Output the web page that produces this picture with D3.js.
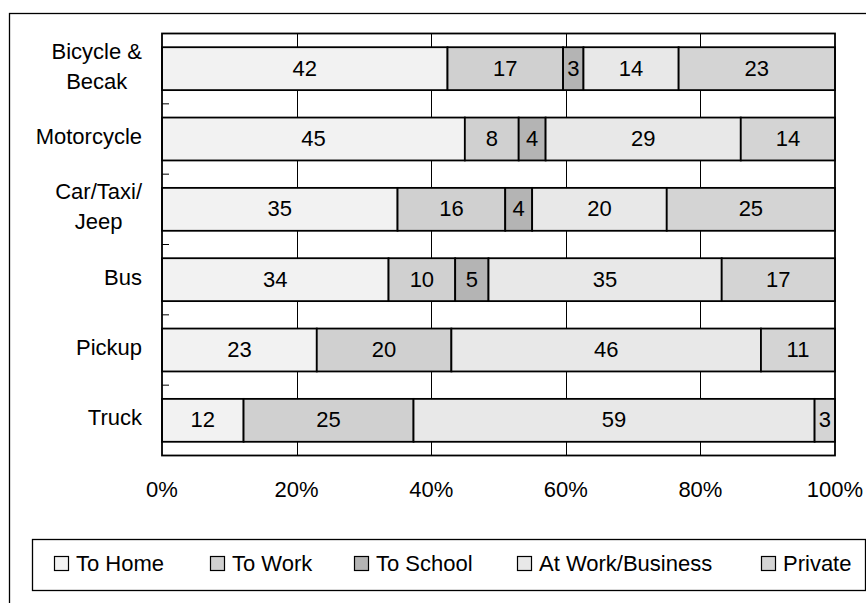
<!DOCTYPE html>
<html>
<head>
<meta charset="utf-8">
<script src="https://cdn.jsdelivr.net/npm/d3@7"></script>
<style>
  body { margin: 0; background: #fff; }
  svg { display: block; font-family: "Liberation Sans", Arial, sans-serif; }
</style>
</head>
<body>
<div id="chart"></div>
<script>
// vehicle types, top to bottom
const vehicles = ["Bicycle & Becak", "Motorcycle", "Car/Taxi/ Jeep", "Bus", "Pickup", "Truck"];
const vehicleLines = [["Bicycle &", "Becak"], ["Motorcycle"], ["Car/Taxi/", "Jeep"], ["Bus"], ["Pickup"], ["Truck"]];

// trip purposes (stack order)
const purposes = ["To Home", "To Work", "To School", "At Work/Business", "Private"];
const purposeColors = ["#f2f2f2", "#d0d0d0", "#b4b4b4", "#e8e8e8", "#d4d4d4"];

// shares per vehicle, same order as purposes
const toHome     = [42, 45, 35, 34, 23, 12];
const toWork     = [17, 8, 16, 10, 20, 25];
const toSchool   = [3, 4, 4, 5, 0, 0];
const atWork     = [14, 29, 20, 35, 46, 59];
const privateTrip = [23, 14, 25, 17, 11, 3];

const xTicks = [0, 0.2, 0.4, 0.6, 0.8, 1];

const W = 866, H = 603;
const plot = { left: 162, top: 33.5, right: 835, bottom: 455.5 };
const fontSize = 22;

const svg = d3.select("#chart").append("svg")
    .attr("width", W)
    .attr("height", H);

// outer frame (runs off the right and bottom)
svg.append("rect")
    .attr("x", 9.5).attr("y", 13.5)
    .attr("width", 1000).attr("height", 1000)
    .attr("fill", "none")
    .attr("stroke", "#000")
    .attr("stroke-width", 1.3);

// build rows for stacking
const series = [toHome, toWork, toSchool, atWork, privateTrip];
const rows = vehicles.map((v, i) => {
    const row = { vehicle: v };
    purposes.forEach((p, j) => row[p] = series[j][i]);
    return row;
});

const stacked = d3.stack()
    .keys(purposes)
    .offset(d3.stackOffsetExpand)(rows);

const x = d3.scaleLinear()
    .domain([0, 1])
    .range([plot.left, plot.right]);

const y = d3.scaleBand()
    .domain(vehicles)
    .range([plot.top, plot.bottom])
    .paddingInner(0.39)
    .paddingOuter(0.195);

// gridlines
svg.append("g")
    .selectAll("line")
    .data(xTicks.slice(1, -1))
    .join("line")
        .attr("x1", d => Math.round(x(d)) + 0.5)
        .attr("x2", d => Math.round(x(d)) + 0.5)
        .attr("y1", plot.top)
        .attr("y2", plot.bottom)
        .attr("stroke", "#000")
        .attr("stroke-width", 1);

// bars
const groups = svg.append("g")
    .selectAll("g")
    .data(stacked)
    .join("g")
        .attr("fill", (d, i) => purposeColors[i]);

groups.selectAll("rect")
    .data(d => d.filter(s => s[1] - s[0] > 0))
    .join("rect")
        .attr("x", d => x(d[0]))
        .attr("y", d => y(d.data.vehicle))
        .attr("width", d => x(d[1]) - x(d[0]))
        .attr("height", y.bandwidth())
        .attr("stroke", "#000")
        .attr("stroke-width", 1.8);

// bar value labels
stacked.forEach((s) => {
    svg.append("g")
        .selectAll("text")
        .data(s.filter(d => d.data[s.key] > 0))
        .join("text")
            .attr("x", d => (x(d[0]) + x(d[1])) / 2)
            .attr("y", d => y(d.data.vehicle) + y.bandwidth() / 2)
            .attr("dy", "0.32em")
            .attr("text-anchor", "middle")
            .attr("font-size", fontSize)
            .attr("fill", "#000")
            .text(d => d.data[s.key]);
});

// plot frame
svg.append("rect")
    .attr("x", plot.left).attr("y", plot.top)
    .attr("width", plot.right - plot.left)
    .attr("height", plot.bottom - plot.top)
    .attr("fill", "none")
    .attr("stroke", "#000")
    .attr("stroke-width", 1.8);

// category tick marks at band boundaries (pointing inward)
const step = y.step();
svg.append("g")
    .selectAll("line")
    .data(d3.range(1, vehicles.length))
    .join("line")
        .attr("x1", plot.left)
        .attr("x2", plot.left + 7)
        .attr("y1", d => plot.top + d * step)
        .attr("y2", d => plot.top + d * step)
        .attr("stroke", "#000")
        .attr("stroke-width", 1);

// category labels: lines centered within a block that is right-aligned
const labelRight = 142;
const lineH = 30;
vehicles.forEach((v, i) => {
    const lines = vehicleLines[i];
    const g = svg.append("g");
    const texts = g.selectAll("text")
        .data(lines)
        .join("text")
            .attr("font-size", fontSize)
            .attr("text-anchor", "middle")
            .text(d => d);
    const widest = d3.max(texts.nodes(), n => n.getComputedTextLength());
    const cx = labelRight - widest / 2;
    const cy = y(v) + y.bandwidth() / 2;
    const firstBase = cy + 5 - (lines.length - 1) * lineH / 2;
    texts.attr("x", cx)
        .attr("y", (d, k) => firstBase + k * lineH);
});

// x axis labels
svg.append("g")
    .selectAll("text")
    .data(xTicks)
    .join("text")
        .attr("x", d => x(d))
        .attr("y", 497)
        .attr("text-anchor", "middle")
        .attr("font-size", fontSize)
        .text(d3.format(".0%"));

// legend
const legendX = [54, 210, 354, 517, 761];
const legend = svg.append("g");
legend.append("rect")
    .attr("x", 32.5).attr("y", 539.5)
    .attr("width", 833).attr("height", 51)
    .attr("fill", "#fff")
    .attr("stroke", "#000")
    .attr("stroke-width", 1.3);

const items = legend.selectAll("g.item")
    .data(purposes)
    .join("g")
        .attr("class", "item")
        .attr("transform", (d, i) => `translate(${legendX[i]},556)`);
items.append("rect")
    .attr("x", 0.5).attr("y", 0.5)
    .attr("width", 14).attr("height", 14)
    .attr("fill", (d, i) => purposeColors[i])
    .attr("stroke", "#000")
    .attr("stroke-width", 1.2);
items.append("text")
    .attr("x", 22)
    .attr("y", 15)
    .attr("font-size", fontSize)
    .text(d => d);
</script>
</body>
</html>
